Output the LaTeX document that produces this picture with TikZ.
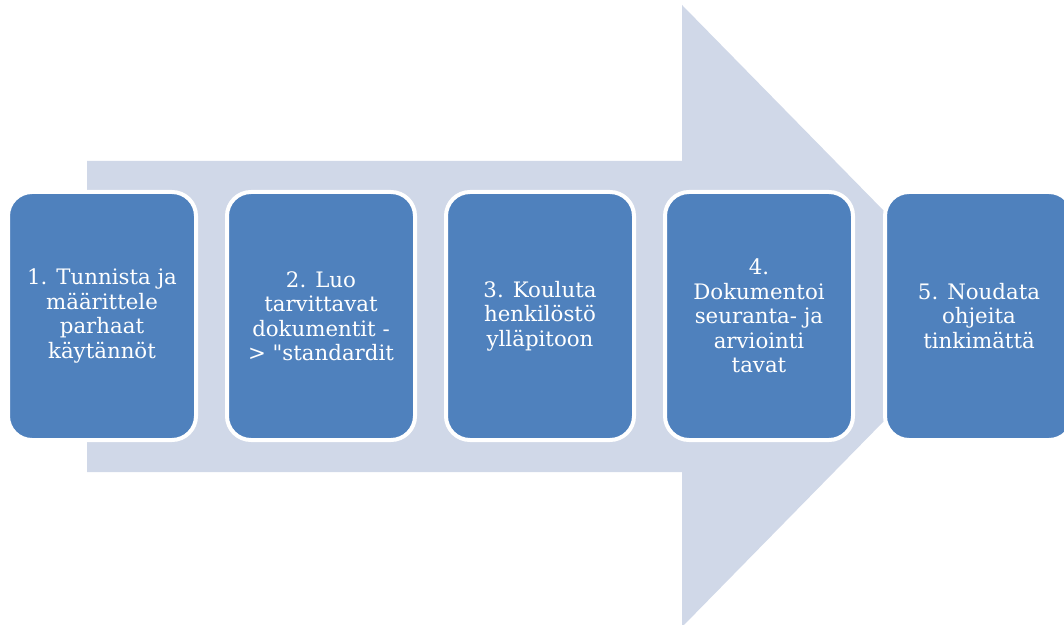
\documentclass[tikz,border=0pt]{standalone}
\usepackage{fontspec}
\setmainfont{DejaVu Serif}[Ligatures=TeXOff]
\definecolor{stepblue}{HTML}{4F81BD}
\definecolor{arrowfill}{HTML}{D0D8E8}
\begin{document}
\begin{tikzpicture}[x=1pt,y=1pt,
  stepbox/.style={draw=white, line width=4pt, fill=stepblue, rounded corners=24pt,
    minimum width=188pt, minimum height=248pt, inner sep=0pt,
    text=white, align=center,
    font=\fontsize{21.3pt}{24.5pt}\selectfont}]
  \useasboundingbox (0,0) rectangle (1064,624);
  \clip (0,0) rectangle (1064,624);
  % background block arrow
  \fill[arrowfill] (87,463) -- (682,463) -- (682,619) -- (987,308)
    -- (682,-3) -- (682,152) -- (87,152) -- cycle;
  % process steps
  \node[stepbox] (s1) at (102,308) {1. Tunnista ja\\määrittele\\parhaat\\käytännöt};
  \node[stepbox] (s2) at (321,308) {2. Luo\\tarvittavat\\dokumentit -\\> "standardit};
  \node[stepbox] (s3) at (540,308) {3. Kouluta\\henkilöstö\\ylläpitoon};
  \node[stepbox] (s4) at (759,308) {4.\\Dokumentoi\\seuranta- ja\\arviointi\\tavat};
  \node[stepbox] (s5) at (979,308) {5. Noudata\\ohjeita\\tinkimättä};
\end{tikzpicture}
\end{document}
